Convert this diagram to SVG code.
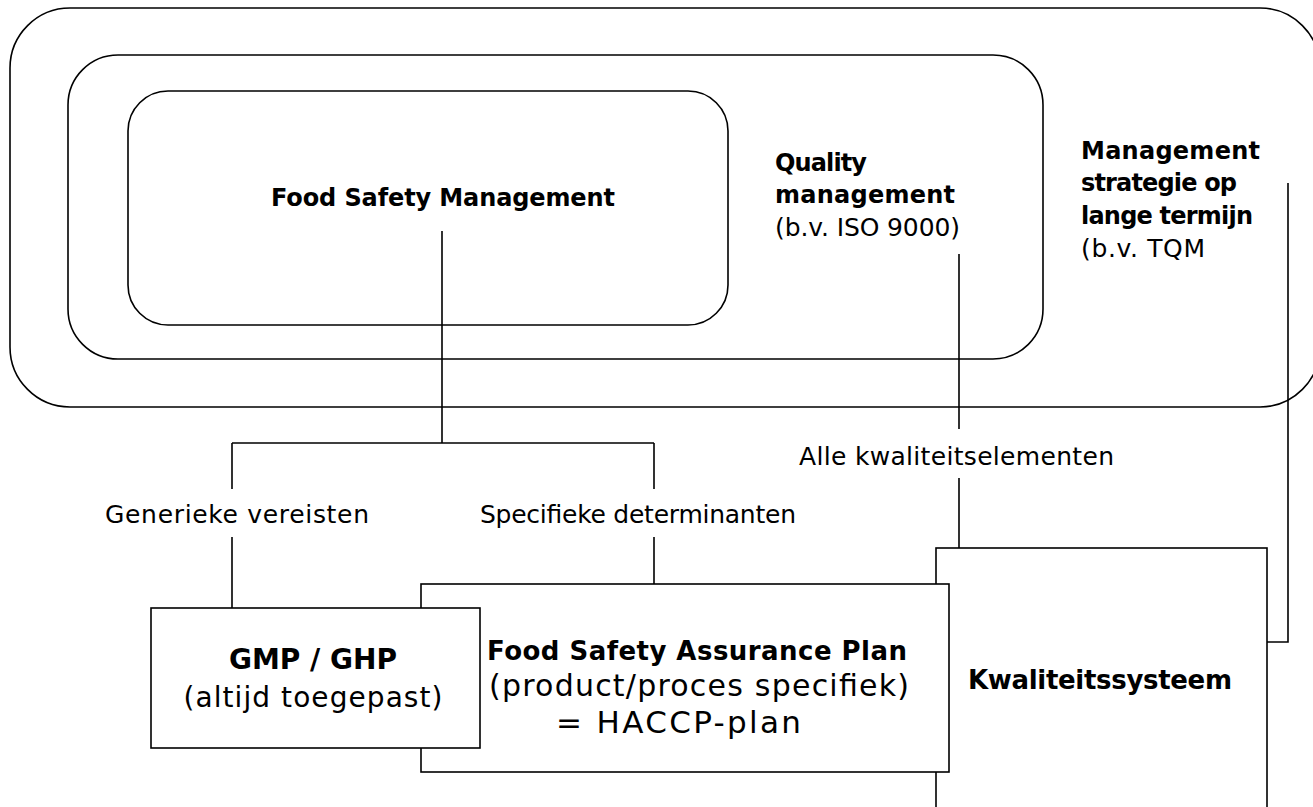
<svg xmlns="http://www.w3.org/2000/svg" width="1313" height="807" viewBox="0 0 1313 807">
<style>
.ln{fill:none;stroke:#000;stroke-width:1.6}
.bx{fill:#fff;stroke:#000;stroke-width:1.6}
text{font-family:"DejaVu Sans","Liberation Sans",sans-serif;fill:#000}
.b{font-weight:bold}
.r{font-weight:normal}
.m{text-anchor:middle}
</style>
<g id="outer-management-strategy">
<rect class="ln" x="10" y="8" width="1310" height="399" rx="60" ry="60"/>
<text class="b" x="1081" y="159" font-size="24" textLength="179">Management</text>
<text class="b" x="1081" y="191" font-size="24" textLength="156">strategie op</text>
<text class="b" x="1081" y="224" font-size="24" textLength="172">lange termijn</text>
<text class="r" x="1081" y="257" font-size="25" textLength="124">(b.v. TQM</text>
</g>
<g id="quality-management">
<rect class="ln" x="68" y="55" width="975" height="304" rx="50" ry="50"/>
<text class="b" x="775" y="171" font-size="24" textLength="92">Quality</text>
<text class="b" x="775" y="203" font-size="24" textLength="180">management</text>
<text class="r" x="775" y="236" font-size="25" textLength="185">(b.v. ISO 9000)</text>
</g>
<g id="food-safety-management">
<rect class="ln" x="128" y="91" width="600" height="234" rx="40" ry="40"/>
<text class="b m" x="443" y="206" font-size="24" textLength="344">Food Safety Management</text>
</g>
<g id="connectors">
<path class="ln" d="M442 231V443M232 443H654M232 443V489M232 537V608M654 443V489M654 537V584"/>
<path class="ln" d="M959 254V429M959 478V548"/>
<path class="ln" d="M1288 183V642H1267"/>
<text class="r" x="799" y="465" font-size="25" textLength="315">Alle kwaliteitselementen</text>
<text class="r" x="105" y="523" font-size="25" textLength="264">Generieke vereisten</text>
<text class="r" x="480" y="523" font-size="25" textLength="316">Specifieke determinanten</text>
</g>
<g id="kwaliteitssysteem">
<rect class="bx" x="936" y="548" width="331" height="300"/>
<text class="b m" x="1100" y="689" font-size="26" textLength="264">Kwaliteitssysteem</text>
</g>
<g id="food-safety-assurance-plan">
<rect class="bx" x="421" y="584" width="528" height="188"/>
<text class="b" x="487" y="660" font-size="26" textLength="420">Food Safety Assurance Plan</text>
<text class="r" x="489" y="696" font-size="30" textLength="420">(product/proces specifiek)</text>
<text class="r" x="556" y="733" font-size="31" textLength="245">= HACCP-plan</text>
</g>
<g id="gmp-ghp">
<rect class="bx" x="151" y="608" width="329" height="140"/>
<text class="b m" x="313" y="669" font-size="28" textLength="168">GMP / GHP</text>
<text class="r m" x="313" y="707" font-size="28" textLength="259">(altijd toegepast)</text>
</g>
</svg>
